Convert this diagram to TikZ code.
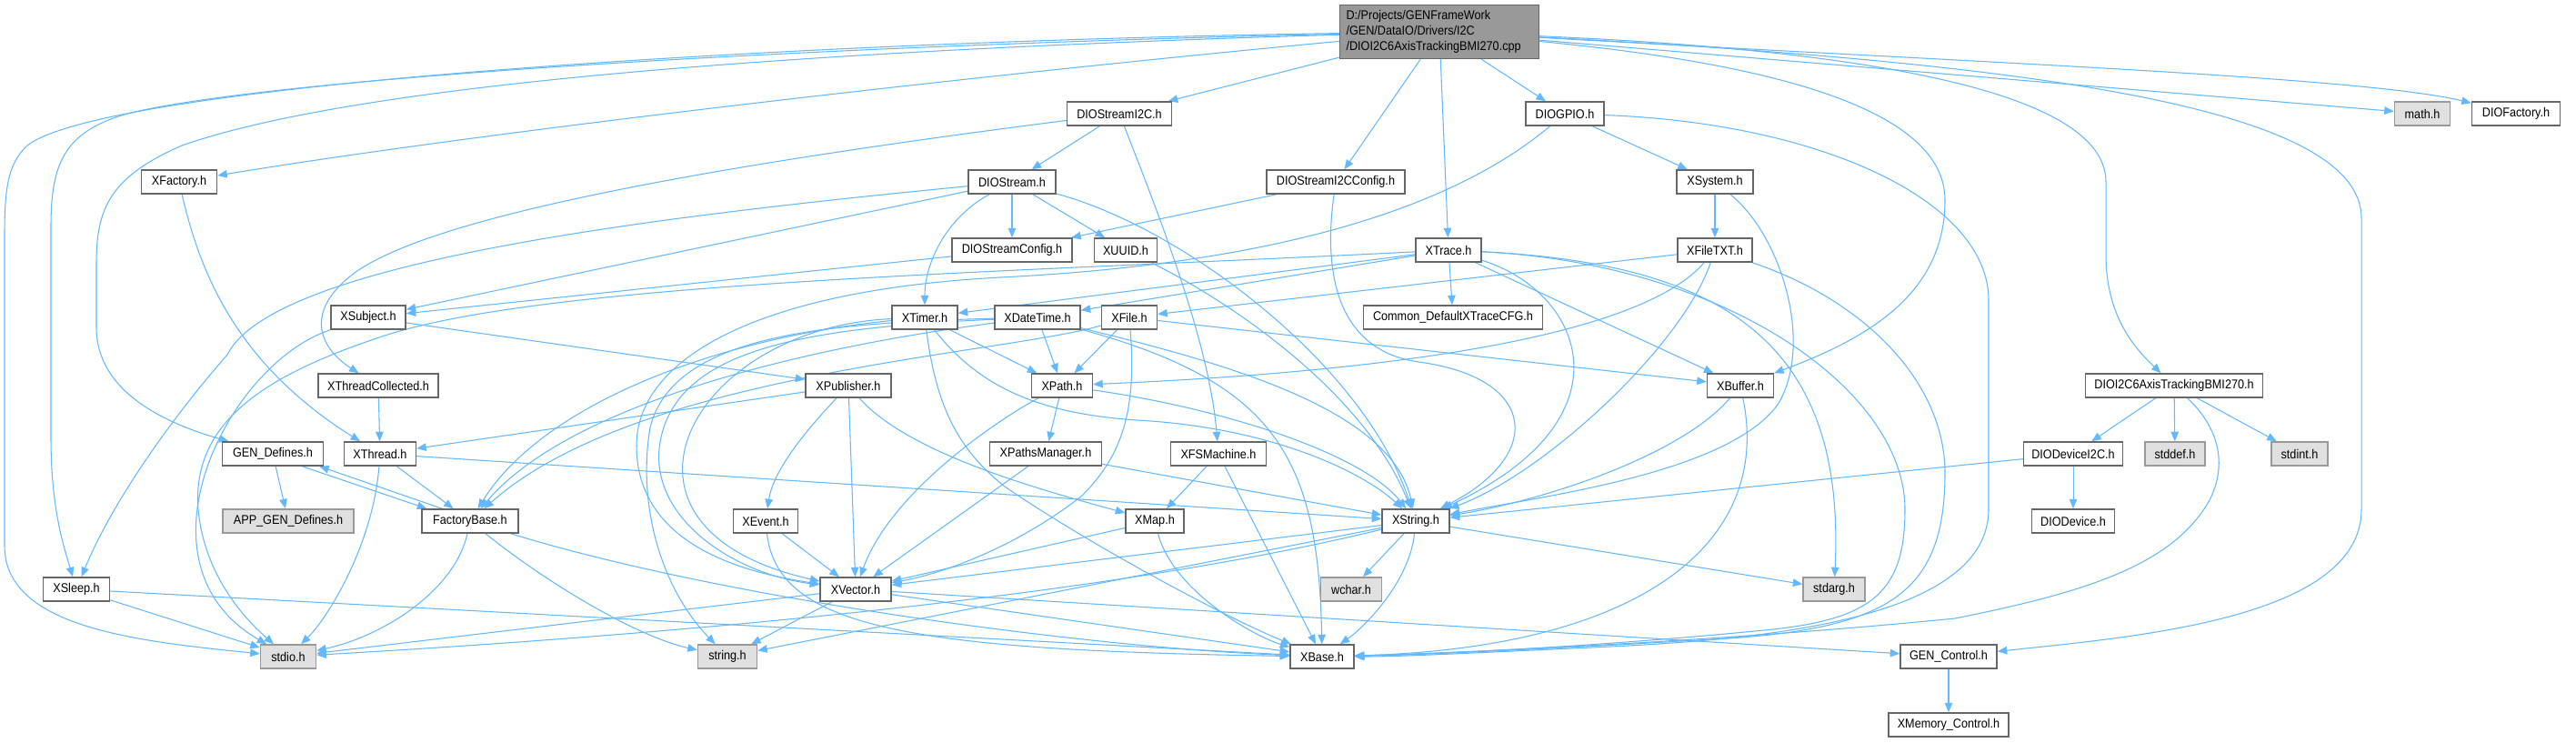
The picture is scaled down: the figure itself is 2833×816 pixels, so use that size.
\documentclass[tikz,border=0pt]{standalone}
\usepackage{fontspec}
\setmainfont{Liberation Sans}[FakeStretch=0.9]
\usetikzlibrary{arrows.meta}
\definecolor{edgec}{HTML}{63B8FF}
\definecolor{boxb}{HTML}{666666}
\definecolor{sysf}{HTML}{E0E0E0}
\definecolor{sysb}{HTML}{999999}
\definecolor{rootf}{HTML}{999999}
\pgfdeclarelayer{bg}
\pgfsetlayers{bg,main}
\tikzset{
  nb/.style={draw=boxb, line width=0.85pt, fill=white, minimum height=0.52cm, inner sep=0pt, font=\fontsize{8}{9.7}\selectfont, text=black},
  sb/.style={nb, draw=sysb, fill=sysf},
  rb/.style={nb, fill=rootf, minimum width=4.38cm, minimum height=1.18cm, align=left, text width=4.1cm},
  edg/.style={draw=edgec, line width=0.6pt, -{Triangle[length=0.21cm,width=0.17cm]}},
}
\begin{document}
\begin{tikzpicture}[x=0.02cm, y=-0.02cm]
\useasboundingbox (0,0) rectangle (2833,816);
% nodes
\node[rb] (root) at (1583,35) {D:/Projects/GENFrameWork\\/GEN/DataIO/Drivers/I2C\\/DIOI2C6AxisTrackingBMI270.cpp};
\node[nb, minimum width=1.66cm] (xfactory) at (197,200) {XFactory.h};
\node[nb, minimum width=2.30cm] (dsi2c) at (1231,125) {DIOStreamI2C.h};
\node[nb, minimum width=1.92cm] (dstream) at (1113,200) {DIOStream.h};
\node[nb, minimum width=3.04cm] (dsi2ccfg) at (1469,200) {DIOStreamI2CConfig.h};
\node[nb, minimum width=1.72cm] (dgpio) at (1721,125) {DIOGPIO.h};
\node[nb, minimum width=1.68cm] (xsystem) at (1886,200) {XSystem.h};
\node[nb, minimum width=2.64cm] (dscfg) at (1113,275) {DIOStreamConfig.h};
\node[nb, minimum width=1.38cm] (xuuid) at (1238,275) {XUUID.h};
\node[nb, minimum width=1.44cm] (xtrace) at (1593,275) {XTrace.h};
\node[nb, minimum width=1.64cm] (xfiletxt) at (1886,275) {XFileTXT.h};
\node[nb, minimum width=1.64cm] (xsubject) at (405,349) {XSubject.h};
\node[nb, minimum width=1.44cm] (xtimer) at (1017,349) {XTimer.h};
\node[nb, minimum width=1.88cm] (xdatetime) at (1141,349) {XDateTime.h};
\node[nb, minimum width=1.22cm] (xfile) at (1242,349) {XFile.h};
\node[nb, minimum width=3.94cm] (common) at (1598,349) {Common\_DefaultXTraceCFG.h};
\node[sb, minimum width=1.22cm] (math) at (2664,125) {math.h};
\node[nb, minimum width=1.94cm] (diofactory) at (2767,125) {DIOFactory.h};
\node[nb, minimum width=2.64cm] (xthreadcol) at (416,424) {XThreadCollected.h};
\node[nb, minimum width=1.88cm] (xpublisher) at (933,424) {XPublisher.h};
\node[nb, minimum width=1.34cm] (xpath) at (1168,424) {XPath.h};
\node[nb, minimum width=1.46cm] (xbuffer) at (1914,424) {XBuffer.h};
\node[nb, minimum width=3.90cm] (bmi) at (2391,424) {DIOI2C6AxisTrackingBMI270.h};
\node[nb, minimum width=2.22cm] (gendef) at (300,499) {GEN\_Defines.h};
\node[nb, minimum width=1.58cm] (xthread) at (418,499) {XThread.h};
\node[nb, minimum width=2.46cm] (xpathsmgr) at (1150,499) {XPathsManager.h};
\node[nb, minimum width=2.10cm] (xfsm) at (1340,499) {XFSMachine.h};
\node[nb, minimum width=2.18cm] (ddi2c) at (2280,499) {DIODeviceI2C.h};
\node[sb, minimum width=1.32cm] (stddef) at (2392,499) {stddef.h};
\node[sb, minimum width=1.24cm] (stdint) at (2529,499) {stdint.h};
\node[sb, minimum width=2.88cm] (appgendef) at (317,573) {APP\_GEN\_Defines.h};
\node[nb, minimum width=2.12cm] (factorybase) at (517,573) {FactoryBase.h};
\node[nb, minimum width=1.42cm] (xevent) at (842,573) {XEvent.h};
\node[nb, minimum width=1.28cm] (xmap) at (1270,573) {XMap.h};
\node[nb, minimum width=1.48cm] (xstring) at (1557,573) {XString.h};
\node[nb, minimum width=1.82cm] (ddevice) at (2280,573) {DIODevice.h};
\node[nb, minimum width=1.46cm] (xsleep) at (84,648) {XSleep.h};
\node[nb, minimum width=1.56cm] (xvector) at (941,648) {XVector.h};
\node[sb, minimum width=1.34cm] (wchar) at (1486,648) {wchar.h};
\node[sb, minimum width=1.36cm] (stdarg) at (2017,648) {stdarg.h};
\node[sb, minimum width=1.22cm] (stdio) at (317,722) {stdio.h};
\node[sb, minimum width=1.30cm] (string) at (800,722) {string.h};
\node[nb, minimum width=1.40cm] (xbase) at (1454,722) {XBase.h};
\node[nb, minimum width=2.12cm] (gencontrol) at (2143,722) {GEN\_Control.h};
\node[nb, minimum width=2.64cm] (xmemctl) at (2143,797) {XMemory\_Control.h};

\begin{pgfonlayer}{bg}
\fill[white] (0,0) rectangle (2833,816);
% root
\draw[edg] (root) .. controls (900,45) and (120,90) .. (30,160) .. controls (8,180) and (5,210) .. (5,260) -- (5,600) .. controls (5,690) and (150,705) .. (stdio);
\draw[edg] (root) .. controls (900,50) and (300,85) .. (140,125) .. controls (70,145) and (56,180) .. (56,250) -- (56,480) .. controls (56,560) and (70,600) .. (xsleep);
\draw[edg] (root) .. controls (900,55) and (400,90) .. (200,160) .. controls (120,195) and (106,230) .. (106,290) -- (106,360) .. controls (106,430) and (180,465) .. (gendef);
\draw[edg] (root) .. controls (1000,90) and (500,150) .. (xfactory);
\draw[edg] (root) -- (dsi2c);
\draw[edg] (root) -- (dsi2ccfg);
\draw[edg] (root) -- (xtrace);
\draw[edg] (root) -- (dgpio);
\draw[edg] (root) -- (math);
\draw[edg] (root) .. controls (2200,70) and (2600,85) .. (diofactory);
\draw[edg] (root) .. controls (2050,55) and (2316,100) .. (2316,200) -- (2316,280) .. controls (2316,350) and (2350,385) .. (bmi);
\draw[edg] (root) .. controls (2250,70) and (2597,120) .. (2597,240) -- (2597,560) .. controls (2597,680) and (2350,700) .. (gencontrol);
\draw[edg] (root) .. controls (1950,70) and (2139,120) .. (2139,220) .. controls (2139,320) and (2060,370) .. (xbuffer);
% DIOStreamI2C
\draw[edg] (dsi2c) -- (dstream);
\draw[edg] (dsi2c) .. controls (800,180) and (480,235) .. (390,300) .. controls (330,345) and (355,385) .. (xthreadcol);
\draw[edg] (dsi2c) .. controls (1280,250) and (1330,380) .. (xfsm);
% DIOStream
\draw[edg] (dstream) -- (dscfg);
\draw[edg] (dstream) -- (xuuid);
\draw[edg] (dstream) .. controls (1040,240) and (1017,290) .. (xtimer);
\draw[edg] (dstream) .. controls (700,240) and (300,290) .. (250,390) .. controls (180,470) and (120,560) .. (xsleep);
\draw[edg] (dstream) -- (xsubject);
\draw[edg] (dstream) .. controls (1300,250) and (1500,400) .. (xstring);
% DIOStreamI2CConfig
\draw[edg] (dsi2ccfg) -- (dscfg);
\draw[edg] (dsi2ccfg) .. controls (1455,300) and (1470,385) .. (1560,398) .. controls (1690,415) and (1700,500) .. (xstring);
% DIOStreamConfig, XUUID
\draw[edg] (dscfg) -- (xsubject);
\draw[edg] (xuuid) .. controls (1350,330) and (1500,430) .. (xstring);
% DIOGPIO
\draw[edg] (dgpio) -- (xsystem);
\draw[edg] (dgpio) .. controls (2000,135) and (2187,220) .. (2187,330) -- (2187,560) .. controls (2187,690) and (1900,705) .. (1750,712) .. controls (1620,718) and (1540,722) .. (xbase);
\draw[edg] (dgpio) .. controls (1560,260) and (1300,295) .. (1100,305) .. controls (820,320) and (700,400) .. (700,490) .. controls (700,600) and (820,630) .. (xvector);
% XSystem
\draw[edg] (xsystem) -- (xfiletxt);
\draw[edg] (xsystem) .. controls (1960,260) and (1995,380) .. (1955,445) .. controls (1900,520) and (1700,545) .. (xstring);
% XFileTXT
\draw[edg] (xfiletxt) -- (xfile);
\draw[edg] (xfiletxt) .. controls (1800,375) and (1500,410) .. (xpath);
\draw[edg] (xfiletxt) .. controls (1850,380) and (1700,520) .. (xstring);
\draw[edg] (xfiletxt) .. controls (2050,330) and (2139,420) .. (2139,520) .. controls (2139,650) and (2080,690) .. (1900,702) .. controls (1700,714) and (1560,720) .. (xbase);
% XTrace
\draw[edg] (xtrace) -- (common);
\draw[edg] (xtrace) -- (xtimer);
\draw[edg] (xtrace) -- (xdatetime);
\draw[edg] (xtrace) -- (xbuffer);
\draw[edg] (xtrace) .. controls (1740,320) and (1800,460) .. (xstring);
\draw[edg] (xtrace) .. controls (1900,290) and (2030,380) .. (stdarg);
\draw[edg] (xtrace) .. controls (1900,290) and (2095,430) .. (2095,560) .. controls (2095,650) and (2060,680) .. (1950,692) .. controls (1750,712) and (1560,720) .. (xbase);
\draw[edg] (xtrace) .. controls (1100,300) and (600,310) .. (420,370) .. controls (300,410) and (210,460) .. (218,560) .. controls (225,640) and (280,690) .. (stdio);
% XTimer
\draw[edg] (xtimer) -- (xpath);
\draw[edg] (xtimer) .. controls (800,370) and (600,440) .. (factorybase);
\draw[edg] (xtimer) .. controls (760,360) and (640,580) .. (xvector);
\draw[edg] (xtimer) .. controls (1080,430) and (1150,455) .. (1250,462) .. controls (1400,470) and (1500,520) .. (xstring);
\draw[edg] (xtimer) .. controls (1030,450) and (1055,495) .. (1105,535) .. controls (1200,600) and (1350,680) .. (xbase);
% XDateTime
\draw[edg] (xdatetime) -- (xpath);
\draw[edg] (xdatetime) .. controls (900,380) and (630,440) .. (factorybase);
\draw[edg] (xdatetime) .. controls (900,360) and (760,380) .. (730,470) .. controls (700,560) and (800,630) .. (xvector);
\draw[edg] (xdatetime) .. controls (900,355) and (740,370) .. (715,470) .. controls (700,560) and (730,650) .. (string);
\draw[edg] (xdatetime) .. controls (1350,400) and (1530,450) .. (xstring);
\draw[edg] (xdatetime) .. controls (1400,420) and (1450,500) .. (xbase);
% XFile
\draw[edg] (xfile) -- (xpath);
\draw[edg] (xfile) .. controls (1100,390) and (700,410) .. (factorybase);
\draw[edg] (xfile) .. controls (1250,450) and (1235,500) .. (1190,545) .. controls (1120,600) and (1040,630) .. (xvector);
\draw[edg] (xfile) -- (xbuffer);
% XPath
\draw[edg] (xpath) -- (xpathsmgr);
\draw[edg] (xpath) .. controls (1100,460) and (980,540) .. (xvector);
\draw[edg] (xpath) .. controls (1350,450) and (1500,500) .. (xstring);
% XPublisher
\draw[edg] (xpublisher) -- (xthread);
\draw[edg] (xpublisher) .. controls (880,480) and (850,520) .. (xevent);
\draw[edg] (xpublisher) -- (xvector);
\draw[edg] (xpublisher) .. controls (1000,500) and (1150,540) .. (xmap);
% XSubject
\draw[edg] (xsubject) -- (xpublisher);
\draw[edg] (xsubject) .. controls (250,400) and (140,620) .. (stdio);
% XFactory, XThreadCollected
\draw[edg] (xfactory) .. controls (220,300) and (260,400) .. (xthread);
\draw[edg] (xthreadcol) -- (xthread);
% XThread
\draw[edg] (xthread) -- (factorybase);
\draw[edg] (xthread) .. controls (410,600) and (360,680) .. (stdio);
\draw[edg] (xthread) -- (xstring);
% GEN_Defines / FactoryBase
\draw[edg] (gendef) -- (appgendef);
\draw[edg] ([xshift=-0.48cm]gendef.south east) -- ([xshift=0.12cm]factorybase.north west);
\draw[edg] ([xshift=0.46cm]factorybase.north west) -- ([xshift=-0.1cm]gendef.south east);
\draw[edg] (factorybase) .. controls (500,650) and (420,700) .. (stdio);
\draw[edg] (factorybase) .. controls (600,640) and (700,700) .. (string);
\draw[edg] (factorybase) .. controls (800,660) and (1200,712) .. (xbase);
% XEvent
\draw[edg] (xevent) -- (xvector);
\draw[edg] (xevent) .. controls (855,690) and (1000,715) .. (xbase);
% XPathsManager
\draw[edg] (xpathsmgr) -- (xvector);
\draw[edg] (xpathsmgr) -- (xstring);
% XFSMachine
\draw[edg] (xfsm) -- (xmap);
\draw[edg] (xfsm) -- (xbase);
% XMap
\draw[edg] (xmap) -- (xvector);
\draw[edg] (xmap) .. controls (1290,650) and (1380,700) .. (xbase);
% XVector
\draw[edg] (xvector) -- (xbase);
\draw[edg] (xvector) -- (string);
\draw[edg] (xvector) -- (stdio);
\draw[edg] (xvector) -- (gencontrol);
% XString
\draw[edg] (xstring) -- (xvector);
\draw[edg] (xstring) -- (wchar);
\draw[edg] (xstring) -- (stdarg);
\draw[edg] (xstring) .. controls (1550,640) and (1500,690) .. (xbase);
\draw[edg] (xstring) .. controls (1200,660) and (700,700) .. (stdio);
\draw[edg] (xstring) -- (string);
% XSleep
\draw[edg] (xsleep) -- (stdio);
\draw[edg] (xsleep) -- (xbase);
% XBuffer
\draw[edg] (xbuffer) .. controls (1850,500) and (1700,550) .. (xstring);
\draw[edg] (xbuffer) .. controls (1950,600) and (1800,712) .. (xbase);
% BMI270 header
\draw[edg] (bmi) -- (ddi2c);
\draw[edg] (bmi) -- (stddef);
\draw[edg] (bmi) -- (stdint);
\draw[edg] (bmi) .. controls (2440,470) and (2450,510) .. (2430,550) .. controls (2390,620) and (2300,650) .. (2150,680) .. controls (1900,705) and (1600,718) .. (xbase);
% DIODeviceI2C, GEN_Control
\draw[edg] (ddi2c) -- (ddevice);
\draw[edg] (ddi2c) -- (xstring);
\draw[edg] (gencontrol) -- (xmemctl);
\end{pgfonlayer}
\end{tikzpicture}
\end{document}
